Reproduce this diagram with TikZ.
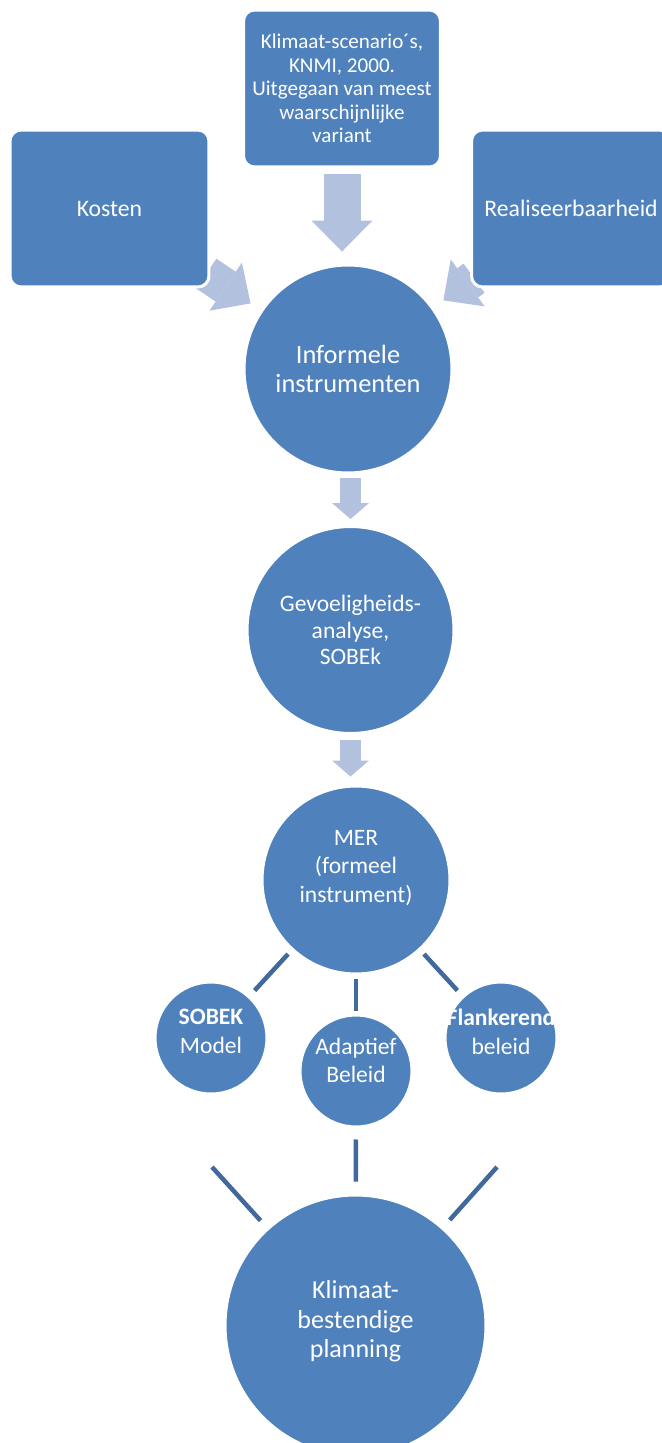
\documentclass[tikz,border=0pt]{standalone}
\usepackage{fontspec}
\setmainfont{Carlito}
\usetikzlibrary{arrows.meta,backgrounds}
\definecolor{smartblue}{HTML}{4F81BD}
\definecolor{arrowblue}{HTML}{B2C1DE}
\definecolor{linkblue}{HTML}{41699B}

\begin{document}
\begin{tikzpicture}[
  x=0.02cm, y=-0.02cm,
  sourcebox/.style={
    rectangle,
    rounded corners=0.22cm,
    fill=smartblue,
    draw=white,
    line width=0.06cm,
    text=white,
    align=center,
    minimum width=3.98cm,
    minimum height=3.14cm,
    inner sep=0pt
  },
  disc/.style={
    circle,
    fill=smartblue,
    draw=white,
    line width=0.06cm,
    inner sep=0pt
  },
  disctext/.style={
    text=white,
    align=center,
    inner sep=0pt
  },
  bigarrow/.style={
    draw=arrowblue,
    line width=0.74cm,
    -{Triangle[width=1.22cm,length=0.62cm,line width=0pt]}
  },
  sidearrow/.style={
    draw=arrowblue,
    line width=0.72cm,
    -{Triangle[width=1.16cm,length=0.6cm,line width=0pt]}
  },
  smallarrow/.style={
    draw=arrowblue,
    line width=0.42cm,
    -{Triangle[width=0.74cm,length=0.32cm,line width=0pt]}
  },
  link/.style={
    draw=linkblue,
    line width=0.09cm
  }]
  \useasboundingbox (0,0) rectangle (662,1443);
  % sources
  \node [sourcebox, minimum width=3.94cm, font=\fontsize{12pt}{13.4pt}\selectfont] (scen) at (342,88.5)
    {Klimaat-scenario´s,\\KNMI, 2000.\\Uitgegaan van meest\\waarschijnlijke\\variant};
  \node [sourcebox, font=\fontsize{13.5pt}{16pt}\selectfont] (kosten) at (109.5,208.5) {Kosten};
  \node [sourcebox, font=\fontsize{13.5pt}{16pt}\selectfont] (real) at (571,208.5) {Realiseerbaarheid};
  % instruments
  \node [disc, minimum size=4.16cm,
    label={[disctext, font=\fontsize{15pt}{17pt}\selectfont]center:{Informele\\instrumenten}}] (inf) at (348,369) {};
  \node [disc, minimum size=4.14cm,
    label={[disctext, font=\fontsize{13.4pt}{15pt}\selectfont]center:{Gevoeligheids-\\analyse,\\SOBEk}}] (gev) at (350.5,630) {};
  \node [disc, minimum size=3.76cm,
    label={[disctext, yshift=0.24cm, font=\fontsize{13.4pt}{16.4pt}\selectfont]center:{MER\\(formeel\\instrument)}}] (mer) at (356,880) {};
  % level below MER
  \node [disc, minimum size=2.24cm,
    label={[disctext, yshift=0.13cm, font=\fontsize{13.4pt}{16.4pt}\selectfont]center:{\textbf{SOBEK}\\Model}}] (sobek) at (211,1038) {};
  \node [disc, minimum size=2.24cm,
    label={[disctext, yshift=0.21cm, font=\fontsize{13.4pt}{16pt}\selectfont]center:{Adaptief\\Beleid}}] (adap) at (356,1071) {};
  \node [disc, minimum size=2.24cm,
    label={[disctext, yshift=0.13cm, font=\fontsize{13.4pt}{16.4pt}\selectfont]center:{\textbf{Flankerend}\\beleid}}] (flank) at (501,1038) {};
  % result
  \node [disc, minimum size=5.22cm,
    label={[disctext, yshift=0.08cm, font=\fontsize{14.8pt}{16.7pt}\selectfont]center:{Klimaat-\\bestendige\\planning}}] (plan) at (355.5,1325.5) {};
  \coordinate (free-l) at (212,1167);
  \coordinate (free-r) at (497,1167);
  % block arrows
  \begin{pgfonlayer}{background}
  \draw[bigarrow, shorten <=0.12cm, shorten >=0.24cm] (scen.south) -- (scen.south |- inf.north);
  \draw[sidearrow, shorten <=-0.1cm, shorten >=0.24cm] (kosten) -- (inf);
  \draw[sidearrow, shorten <=-0.1cm, shorten >=0.24cm] (real) -- (inf);
  \draw[smallarrow, shorten <=0.08cm, shorten >=0.12cm] (gev.north |- inf.south) -- (gev.north);
  \draw[smallarrow, shorten <=0.1cm, shorten >=0.16cm] (gev.south) -- (gev.south |- mer.north);
  \end{pgfonlayer}
  % connectors
  \draw[link, shorten <=0.1cm, shorten >=0.14cm] (mer) -- (sobek);
  \draw[link, shorten <=0.08cm, shorten >=0.06cm] (mer) -- (adap);
  \draw[link, shorten <=0.1cm, shorten >=0.14cm] (mer) -- (flank);
  \draw[link, shorten <=0.22cm, shorten >=0.24cm] (adap) -- (plan);
  \draw[link, shorten >=0.19cm] (free-l) -- (plan);
  \draw[link, shorten >=0.19cm] (free-r) -- (plan);
\end{tikzpicture}
\end{document}
